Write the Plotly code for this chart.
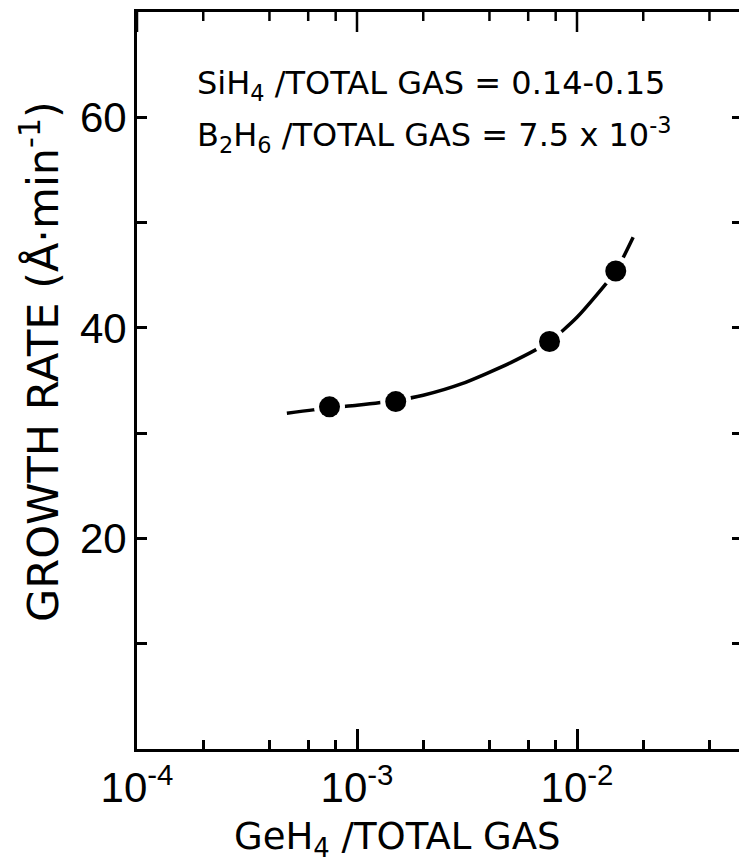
import plotly.graph_objects as go

# Measured points: GeH4 fraction vs. growth rate (Å/min)
geh4_ratio = [7.5e-4, 1.5e-3, 7.5e-3, 1.5e-2]
growth_rate = [32.5, 33.0, 38.7, 45.4]

# Guide curve drawn through the measurements
fit_ratio = [4.8e-4, 7.5e-4, 1.0e-3, 1.5e-3, 2.0e-3, 3.0e-3, 5.0e-3, 7.5e-3, 1.0e-2, 1.5e-2, 1.8e-2]
fit_rate = [31.9, 32.4, 32.65, 33.1, 33.6, 34.7, 36.7, 38.7, 41.0, 45.4, 48.6]

# Axis ticks
x_tickvals = [1e-4, 1e-3, 1e-2]
x_ticktext = ["10<sup>-4</sup>", "10<sup>-3</sup>", "10<sup>-2</sup>"]
x_minor = [2e-4, 4e-4, 6e-4, 8e-4, 2e-3, 4e-3, 6e-3, 8e-3, 2e-2, 4e-2]
y_tickvals = [10, 20, 30, 40, 50, 60]
y_ticktext = ["", "20", "", "40", "", "60"]

W, H = 739, 866
L, R, T, B = 137, 0, 12, 117
DECADE_PX = 220.0
x_range = [-4, -4 + (W - L - R) / DECADE_PX]
y_range = [0, 70]

MAJOR_LEN, MINOR_LEN = 20, 9
FONT = "DejaVu Sans"

pw = W - L - R
ph = H - T - B
y_per_px = (y_range[1] - y_range[0]) / ph

fig = go.Figure()

fig.add_trace(go.Scatter(
    x=fit_ratio, y=fit_rate, mode="lines",
    line=dict(color="black", width=3.5, shape="spline", smoothing=0.6),
    hoverinfo="skip", showlegend=False,
))
# white halo so the curve breaks around each dot
fig.add_trace(go.Scatter(
    x=geh4_ratio, y=growth_rate, mode="markers",
    marker=dict(color="white", size=31, line=dict(width=0)),
    hoverinfo="skip", showlegend=False,
))
fig.add_trace(go.Scatter(
    x=geh4_ratio, y=growth_rate, mode="markers",
    marker=dict(color="black", size=21, line=dict(width=0)),
    showlegend=False,
))

# tick marks hanging from the top frame, at the same x values as the bottom ticks
top_x, top_y = [], []
for vals, length in ((x_tickvals, MAJOR_LEN), (x_minor, MINOR_LEN)):
    for v in vals:
        top_x += [v, v, None]
        top_y += [y_range[1], y_range[1] - length * y_per_px, None]
fig.add_trace(go.Scatter(
    x=top_x, y=top_y, mode="lines",
    line=dict(color="black", width=2.5),
    hoverinfo="skip", showlegend=False,
))

# carriers for the minor-tick x axis and the right-hand tick axis
fig.add_trace(go.Scatter(x=[], y=[], xaxis="x2", showlegend=False))
fig.add_trace(go.Scatter(x=[], y=[], yaxis="y2", showlegend=False))

tick_style = dict(ticks="inside", tickwidth=2.5, tickcolor="black",
                  showgrid=False, zeroline=False)

fig.update_layout(
    width=W, height=H,
    margin=dict(l=L, r=R, t=T, b=B),
    paper_bgcolor="white", plot_bgcolor="white",
    font=dict(family=FONT, color="black"),
    xaxis=dict(
        type="log", range=x_range,
        tickvals=x_tickvals, ticktext=x_ticktext, ticklen=MAJOR_LEN,
        showline=True, linewidth=3, linecolor="black", mirror=True,
        tickfont=dict(family="Liberation Sans", size=42, color="black"),
        **tick_style,
    ),
    # short ticks at 2, 4, 6, 8 of each decade along the bottom
    xaxis2=dict(
        type="log", range=x_range, overlaying="x", side="bottom", anchor="y",
        tickvals=x_minor, ticklen=MINOR_LEN,
        showticklabels=False, showline=False,
        **tick_style,
    ),
    yaxis=dict(
        range=y_range,
        tickvals=y_tickvals, ticktext=y_ticktext, ticklen=10,
        showline=True, linewidth=3, linecolor="black",
        tickfont=dict(family="Liberation Sans", size=42, color="black"),
        ticklabelstandoff=-1,
        **tick_style,
    ),
    yaxis2=dict(
        overlaying="y", side="right", range=y_range, anchor="x",
        tickvals=y_tickvals, ticklen=7,
        showticklabels=False, showline=False,
        **tick_style,
    ),
)


def px_x(p):
    return (p - L) / pw


def px_y(p):
    return (H - B - p) / ph


fig.add_annotation(
    text="SiH<sub>4</sub> /TOTAL GAS = 0.14-0.15",
    xref="paper", yref="paper", x=px_x(195), y=px_y(85),
    xanchor="left", yanchor="middle", showarrow=False,
    font=dict(family=FONT, size=32, color="black"),
)
fig.add_annotation(
    text="B<sub>2</sub>H<sub>6</sub> /TOTAL GAS = 7.5 x 10<sup>-3</sup>",
    xref="paper", yref="paper", x=px_x(195), y=px_y(135),
    xanchor="left", yanchor="middle", showarrow=False,
    font=dict(family=FONT, size=32, color="black"),
)
fig.add_annotation(
    text="GeH<sub>4</sub> /TOTAL GAS",
    xref="paper", yref="paper", x=px_x(397), y=px_y(839),
    xanchor="center", yanchor="middle", showarrow=False,
    font=dict(family=FONT, size=37, color="black"),
)
fig.add_annotation(
    text="GROWTH RATE (Å·min<sup>-1</sup>)",
    xref="paper", yref="paper", x=px_x(40), y=px_y(362),
    xanchor="center", yanchor="middle", showarrow=False, textangle=-90,
    font=dict(family=FONT, size=43, color="black"),
)

fig.write_html("out.html")
